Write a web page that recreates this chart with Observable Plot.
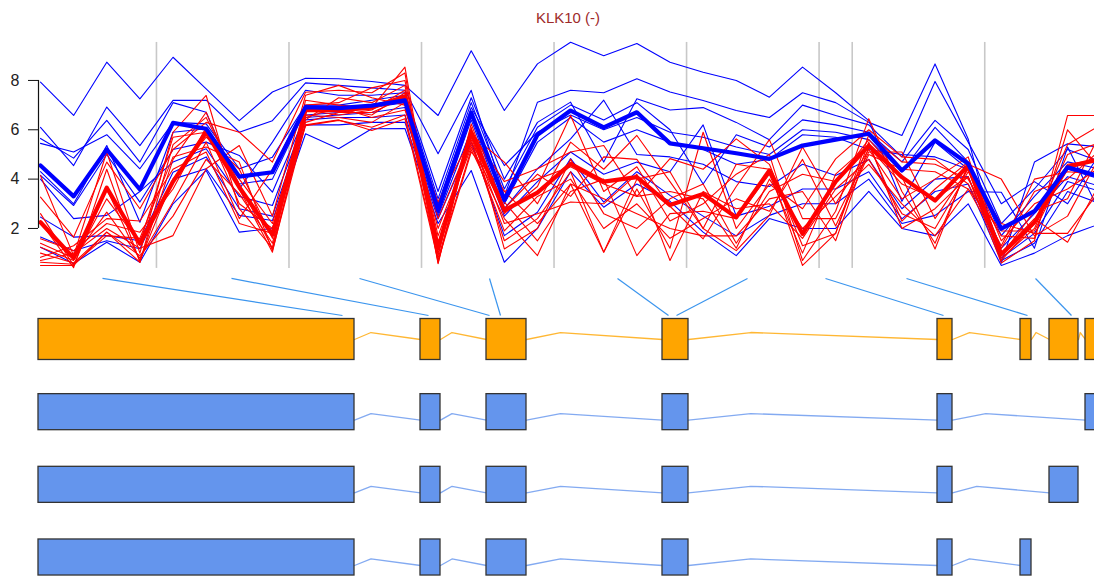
<!DOCTYPE html>
<html><head><meta charset="utf-8">
<script src="https://cdn.jsdelivr.net/npm/d3@7"></script>
<script src="https://cdn.jsdelivr.net/npm/@observablehq/plot@0.6"></script>
<style>
html,body{margin:0;padding:0;background:#fff;overflow:hidden;width:1094px;height:577px}
#title{height:30px;padding-top:9px;line-height:17px;font:15px "Liberation Sans",Arial,sans-serif;color:#9e2a2a;text-align:center;padding-left:42px;box-sizing:border-box;width:1094px}
#top svg,#genes svg{display:block}
</style></head><body>
<div id="title">KLK10 (-)</div>
<div id="top"></div>
<div id="genes"></div>
<script>
// ---- expression profiles (33 probes) ----
const yTicks = [2, 4, 6, 8];
const exonSeparators = [3.5, 7.5, 11.5, 15.5, 19.5, 23.5, 24.5, 28.5];

const blueMean = [4.55,3.3,5.2,3.58,6.28,6.04,4.1,4.28,6.92,6.88,6.98,7.19,2.73,6.7,3.15,5.8,6.78,6.1,6.71,5.45,5.25,5.05,4.82,5.36,5.6,5.84,4.35,5.57,4.62,1.99,2.7,4.48,4.1];
const redMean  = [2.25,0.8,3.65,1.38,3.9,5.9,3.67,1.75,6.8,6.8,6.9,7.35,1.2,5.9,2.73,3.45,4.62,3.9,4.08,2.95,3.4,2.45,4.35,1.78,3.9,5.36,4.08,3.13,4.55,0.95,2.25,4.5,4.82];

const blueSamples = [
 [7.93,6.58,8.74,7.25,8.94,7.66,6.37,7.53,8.09,8.07,7.96,7.8,6.58,9.2,6.78,8.67,9.55,9.0,9.5,8.74,8.33,8.0,7.32,8.54,7.5,6.37,3.1,5.5,4.4,1.2,2.6,4.1,3.7],
 [6.1,4.55,6.92,5.36,7.19,7.2,5.9,6.37,7.9,7.8,7.7,7.6,5.03,7.6,3.3,7.12,7.6,7.5,8.07,7.53,7.19,6.78,6.5,7.5,7.1,6.3,5.77,8.67,5.63,0.6,4.69,5.43,5.3],
 [5.65,4.85,6.38,4.69,7.1,6.71,3.6,5.5,7.6,7.4,7.4,7.5,3.5,7.3,4.0,6.3,7.12,4.69,7.26,6.8,6.9,6.3,5.6,7.0,6.58,6.2,4.9,7.96,5.5,3.0,3.9,3.0,5.1],
 [5.45,5.1,5.8,4.42,6.3,6.24,4.42,4.89,7.0,7.0,7.2,7.4,3.2,7.1,3.6,6.1,7.0,6.4,7.1,6.0,3.8,5.8,5.3,6.4,6.2,5.9,4.7,6.38,5.2,2.2,3.6,5.2,4.7],
 [4.3,3.0,5.36,2.25,5.9,6.04,3.8,4.0,6.8,6.8,7.0,7.3,3.0,6.9,4.55,5.9,6.6,6.0,6.5,5.9,5.7,5.3,5.0,6.0,5.9,5.6,4.3,6.1,4.7,1.71,3.3,4.7,4.4],
 [4.15,2.93,5.0,3.07,5.2,5.5,4.96,3.47,6.6,6.7,6.9,7.1,2.8,6.7,3.0,5.5,6.5,5.5,6.0,5.5,5.2,4.6,4.8,5.8,5.7,5.2,5.0,4.9,4.4,1.0,2.3,4.4,4.0],
 [4.0,2.4,2.53,3.5,4.69,5.23,3.3,2.93,6.5,6.6,6.7,6.9,2.6,6.4,2.8,4.42,5.63,7.2,5.0,4.9,4.6,3.9,3.7,4.6,4.15,4.8,2.8,4.0,4.1,0.8,1.8,3.9,3.5],
 [2.46,1.65,1.71,1.5,4.28,4.9,2.8,2.5,6.4,6.5,6.5,6.6,2.5,6.0,2.5,3.9,5.1,4.2,4.69,4.3,6.2,2.5,2.9,3.6,3.6,4.3,2.39,3.5,3.8,0.7,1.4,3.5,3.0],
 [1.65,1.1,1.5,1.18,4.0,4.42,2.53,2.32,6.2,6.2,6.3,6.3,2.39,5.5,1.71,2.66,4.83,3.07,4.3,3.34,2.5,1.7,2.53,3.0,3.0,4.0,2.2,2.53,3.5,3.47,1.2,5.3,2.6],
 [1.24,0.58,1.44,0.63,3.0,4.35,1.85,2.0,5.84,5.23,6.04,6.05,2.2,4.35,0.63,2.0,4.3,2.86,3.8,3.1,1.85,0.9,2.4,2.0,2.0,3.5,2.0,1.71,3.0,0.5,1.0,1.71,2.2]
];

const redSamples = [
 [4.15,0.9,5.1,1.0,5.9,7.39,2.8,1.2,7.2,7.0,6.9,8.54,0.9,6.24,2.6,3.7,6.58,3.5,4.5,2.3,3.0,4.2,5.0,0.7,2.7,6.45,3.5,1.4,4.5,0.8,2.0,5.0,5.5],
 [3.27,1.65,4.69,2.8,5.2,6.3,5.9,4.69,7.52,7.6,7.5,8.3,0.6,5.9,3.9,4.42,5.1,5.36,3.3,4.83,4.4,5.63,4.6,1.3,1.8,5.5,2.0,2.8,4.1,0.6,1.5,6.58,6.58],
 [2.6,0.5,3.6,0.7,4.0,5.7,4.4,1.6,6.9,6.8,6.6,7.5,2.4,5.6,1.5,2.4,4.3,1.04,3.6,1.2,5.9,2.0,3.8,2.8,4.82,6.0,4.9,4.8,3.8,1.3,4.0,4.3,4.2],
 [2.25,0.41,4.4,0.63,4.8,6.71,3.6,1.04,6.6,6.5,6.3,7.1,1.0,5.8,4.69,3.0,5.5,4.4,5.77,3.9,2.0,1.1,2.53,5.3,3.0,5.2,3.2,4.0,4.9,1.0,2.4,1.44,3.9],
 [1.58,1.1,2.2,1.85,3.6,6.1,3.0,2.0,6.4,7.3,7.1,7.8,0.57,6.1,1.17,2.0,4.8,2.6,2.0,3.2,3.8,1.4,3.5,4.2,3.9,5.6,4.1,1.17,4.6,4.0,1.7,2.5,5.0],
 [1.4,0.8,2.66,0.8,3.07,5.5,2.4,4.4,7.0,7.1,7.7,8.0,1.4,5.5,3.07,1.5,3.5,4.0,0.9,2.6,2.7,2.4,4.2,1.0,4.2,5.4,2.3,3.6,4.7,1.5,3.0,3.6,4.5],
 [1.24,0.7,3.2,1.4,5.7,5.9,4.0,2.2,6.8,6.6,6.8,7.6,1.7,5.3,2.8,4.2,3.3,4.9,4.8,2.9,1.58,3.7,5.6,2.4,2.4,5.1,5.1,2.4,4.4,0.7,2.2,5.4,6.2],
 [1.0,0.6,1.85,0.9,2.5,4.8,3.4,1.4,6.5,6.9,6.5,6.8,3.07,5.7,2.2,2.6,3.07,3.0,4.2,0.7,3.5,2.8,3.0,1.6,3.6,4.8,2.6,2.0,4.3,2.2,1.8,1.8,3.6],
 [0.83,1.3,2.4,2.3,4.4,5.1,2.2,1.8,6.17,6.38,6.1,6.6,0.8,5.2,2.4,0.9,3.8,3.2,2.6,2.0,1.7,1.7,3.2,3.5,1.5,5.3,3.8,3.2,4.1,0.9,2.7,3.2,5.9],
 [0.7,1.0,2.0,1.2,1.71,4.42,5.36,2.5,7.4,7.8,7.3,7.0,2.0,5.4,1.9,3.3,4.0,2.0,3.0,1.6,2.4,3.2,2.7,4.8,2.1,5.0,4.4,4.3,3.6,1.9,1.9,4.6,4.8],
 [0.63,0.55,1.71,1.6,4.9,5.3,4.69,1.1,6.2,6.4,5.97,6.45,0.7,5.1,3.5,4.0,4.5,3.8,3.3,3.5,3.2,1.2,4.0,2.0,3.3,4.6,3.0,1.7,3.6,1.2,3.5,4.0,5.2],
 [0.5,0.5,1.85,0.63,5.4,6.5,3.8,1.2,6.3,6.7,6.7,7.3,1.2,6.0,3.5,2.2,3.8,1.04,4.0,4.3,2.0,4.6,4.4,0.5,1.8,5.8,4.7,4.6,4.0,1.7,1.6,6.0,4.4]
];

// ---- gene models ----
const transcriptColors = ["#ffa500", "#6495ed", "#6495ed", "#6495ed"];
const exonStarts = [
 [38,420,486,662,937,1020,1049,1085],
 [38,420,486,662,937,1085],
 [38,420,486,662,937,1049],
 [38,420,486,662,937,1020]
];
const exonEnds = [
 [354,440,526,688,952,1031,1078,1112],
 [354,440,526,688,952,1112],
 [354,440,526,688,952,1078],
 [354,440,526,688,952,1031]
];
const connectorFrom = [102,231,359,489,617,747,825,906,1035];
const connectorTo   = [342,428,489,500,668,676,943,1027,1071];

// ---- build tables ----
const toRows = (series, tag) => series.flatMap((vals, k) => vals.map((v, i) => ({i, v, id: tag + k})));
const blueRows = toRows(blueSamples, "b");
const redRows = toRows(redSamples, "r");
const blueMeanRows = toRows([blueMean], "bm");
const redMeanRows = toRows([redMean], "rm");

const topPlot = Plot.plot({
  width: 1094, height: 245,
  marginLeft: 38, marginRight: 0, marginTop: 0, marginBottom: 0,
  x: {domain: [0, 32], range: [40, 1100.2], axis: null},
  y: {domain: [0, 10], range: [247.3, 0.6], axis: null},
  style: {fontFamily: "'Liberation Sans', Arial, sans-serif", fontSize: "16px", color: "#222", background: "white"},
  marks: [
    Plot.ruleX(exonSeparators, {y1: 0.38, y2: 9.54, stroke: "#c8c8c8", strokeWidth: 1.6}),
    Plot.line(blueRows, {x: "i", y: "v", z: "id", stroke: "#0000ff", strokeWidth: 1.1, clip: true}),
    Plot.line(redRows, {x: "i", y: "v", z: "id", stroke: "#ff0000", strokeWidth: 1.1, clip: true}),
    Plot.line(redMeanRows, {x: "i", y: "v", z: "id", stroke: "#ff0000", strokeWidth: 4.2, clip: true}),
    Plot.line(blueMeanRows, {x: "i", y: "v", z: "id", stroke: "#0000ff", strokeWidth: 4.2, clip: true}),
    Plot.ruleX([0], {y1: yTicks[0], y2: yTicks[yTicks.length - 1], dx: -2, stroke: "#111", strokeWidth: 1.2}),
    Plot.axisY({ticks: yTicks, anchor: "left", tickSize: 10, tickPadding: 9, fontSize: 16, stroke: "#111", label: null})
  ]
});
document.getElementById("top").append(topPlot);

const exonRows = [];
const intronPts = [];
const halfHeight = k => (k === 0 ? 0.282 : 0.248);
const intronBase = k => (k === 0 ? 0 : 0.11);
const intronPeak = k => (k === 0 ? 0.096 : 0.09);
exonStarts.forEach((starts, k) => {
  starts.forEach((s, j) => {
    exonRows.push({start: s, end: exonEnds[k][j], y1: k - halfHeight(k), y2: k + halfHeight(k), color: transcriptColors[k]});
    if (j + 1 < starts.length) {
      const a = exonEnds[k][j], b = starts[j + 1], base = k + intronBase(k);
      const id = `t${k}i${j}`;
      intronPts.push({x: a, y: base, id, color: transcriptColors[k]});
      intronPts.push({x: a + 0.25 * (b - a), y: base - intronPeak(k), id, color: transcriptColors[k]});
      intronPts.push({x: b, y: base, id, color: transcriptColors[k]});
    }
  });
});
const connectors = connectorFrom.map((f, i) => ({from: f, to: connectorTo[i]}));

const genePlot = Plot.plot({
  width: 1094, height: 302,
  marginLeft: 0, marginRight: 0, marginTop: 0, marginBottom: 0,
  x: {domain: [0, 1094], range: [0, 1094], axis: null},
  y: {domain: [0, 3], range: [64, 282], axis: null},
  color: {type: "identity"},
  style: {background: "white"},
  marks: [
    Plot.link(connectors, {x1: "from", x2: "to", y1: -0.84, y2: -0.33, stroke: "#3b95ee", strokeWidth: 1.2}),
    Plot.line(intronPts, {x: "x", y: "y", z: "id", stroke: "color", strokeWidth: 1.3, strokeOpacity: 0.8, clip: true}),
    Plot.rect(exonRows, {x1: "start", x2: "end", y1: "y1", y2: "y2", fill: "color", stroke: "#333", strokeWidth: 1.3, clip: true})
  ]
});
document.getElementById("genes").append(genePlot);
</script>
</body></html>
